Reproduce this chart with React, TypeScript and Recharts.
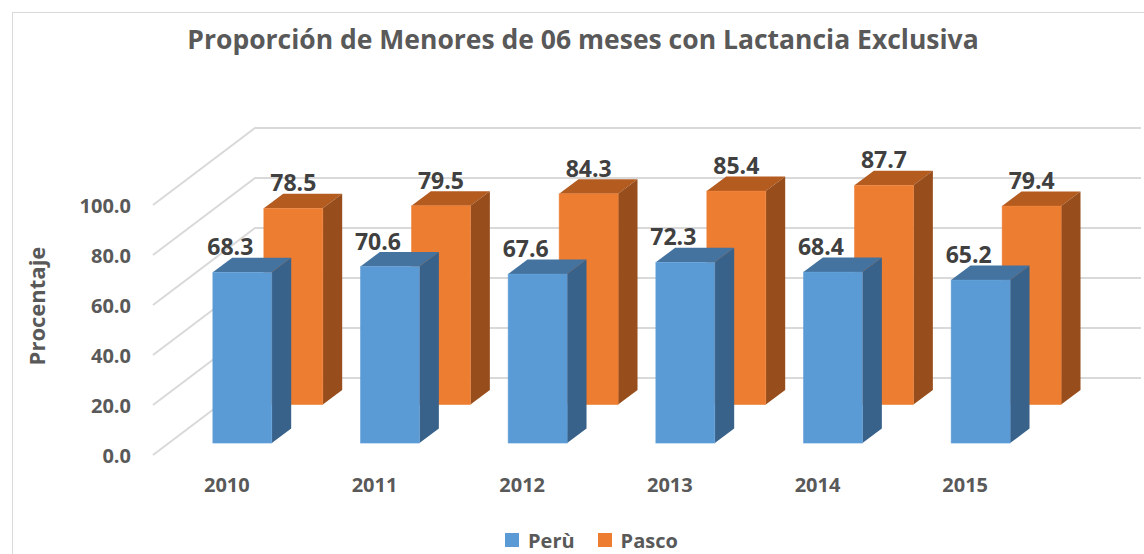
import { BarChart, Bar, XAxis, YAxis, CartesianGrid, Legend, LabelList } from "recharts";

const years = ["2010", "2011", "2012", "2013", "2014", "2015"];
const peru = [68.3, 70.6, 67.6, 72.3, 68.4, 65.2];
const pasco = [78.5, 79.5, 84.3, 85.4, 87.7, 79.4];
const yTicks = [0, 20, 40, 60, 80, 100];

const data = years.map((year, i) => ({ year, peru: peru[i], pasco: pasco[i] }));

const FONT = "'Open Sans', sans-serif";
const TEXT = "#595959";

// oblique projection of the floor: front edge -> back wall, in px
const DEPTH_X = 102;
const DEPTH_Y = -77;
const BOX = 0.19; // how deep each box is, as a share of the floor

type Row = {
  name: string;
  depth: number;
  front: string;
  top: string;
  side: string;
  labelDx: number;
};

const rows: Record<string, Row> = {
  peru: { name: "Perù", depth: 0.155, front: "#5B9BD5", top: "#44739F", side: "#38628A", labelDx: -12 },
  pasco: { name: "Pasco", depth: 0.655, front: "#ED7D31", top: "#B45B20", side: "#984E1C", labelDx: 0 },
};
const legendOrder = ["peru", "pasco"];

function boxShape(row: Row) {
  return (p: any) => {
    const { x, y, width, height } = p;
    const fx = x + DEPTH_X * row.depth;
    const fy = y + DEPTH_Y * row.depth;
    const dx = DEPTH_X * BOX;
    const dy = DEPTH_Y * BOX;
    const r = fx + width;
    const b = fy + height;
    return (
      <g>
        <polygon points={`${fx},${fy} ${r},${fy} ${r + dx},${fy + dy} ${fx + dx},${fy + dy}`} fill={row.top} />
        <polygon points={`${r},${fy} ${r + dx},${fy + dy} ${r + dx},${b + dy} ${r},${b}`} fill={row.side} />
        <rect x={fx} y={fy} width={width} height={height} fill={row.front} stroke={row.front} strokeOpacity={0.6} strokeWidth={0.8} />
      </g>
    );
  };
}

function valueLabel(row: Row) {
  return (p: any) => {
    const { x, y, width, value } = p;
    return (
      <text
        x={x + width / 2 + DEPTH_X * row.depth + row.labelDx}
        y={y + DEPTH_Y * row.depth - 26}
        textAnchor="middle"
        dominantBaseline="central"
        fontFamily={FONT}
        fontWeight={700}
        fontSize={23}
        fill="#404040"
      >
        {Number(value).toFixed(1)}
      </text>
    );
  };
}

// each gridline runs along the left wall then across the back wall
const wallLine = (p: any) => {
  const { x1, y1, x2 } = p;
  return (
    <path
      key={p.key}
      d={`M${x1},${y1} L${x1 + DEPTH_X},${y1 + DEPTH_Y} L${x2 + DEPTH_X},${y1 + DEPTH_Y}`}
      fill="none"
      stroke="#D9D9D9"
      strokeWidth={2}
    />
  );
};

const yTick = (p: any) => (
  <text x={p.x} y={p.y} textAnchor="end" dominantBaseline="central" fontFamily={FONT} fontWeight={700} fontSize={20} fill={TEXT}>
    {Number(p.payload.value).toFixed(1)}
  </text>
);

const xTick = (p: any) => (
  <text x={p.x} y={p.y} textAnchor="middle" dominantBaseline="central" fontFamily={FONT} fontWeight={700} fontSize={20} fill={TEXT}>
    {p.payload.value}
  </text>
);

const yLabel = () => (
  <text x={36} y={306} transform="rotate(-90 36 306)" textAnchor="middle" dominantBaseline="central" fontFamily={FONT} fontWeight={700} fontSize={22} fill={TEXT}>
    Procentaje
  </text>
);

const legendContent = (props: any) => {
  const items = [...(props.payload || [])].sort(
    (a: any, b: any) => legendOrder.indexOf(a.dataKey) - legendOrder.indexOf(b.dataKey)
  );
  return (
    <div style={{ display: "flex", alignItems: "center", height: 24, paddingLeft: 505, fontFamily: FONT, fontWeight: 700, fontSize: 20, color: TEXT }}>
      {items.map((it: any) => (
        <span key={it.dataKey} style={{ display: "flex", alignItems: "center", marginRight: 23 }}>
          <span style={{ width: 14, height: 14, background: rows[it.dataKey].front, marginRight: 9 }} />
          {it.value}
        </span>
      ))}
    </div>
  );
};

export default function App() {
  return (
    <div style={{ position: "absolute", left: 0, top: 0, width: 1144, height: 554, overflow: "hidden", background: "#fff" }}>
      <div style={{ position: "absolute", left: 12, top: 12, width: 1200, height: 600, border: "1.5px solid #D9D9D9" }} />
      <div
        style={{
          position: "absolute",
          left: 0,
          top: 23,
          width: 1144,
          paddingLeft: 22,
          boxSizing: "border-box",
          textAlign: "center",
          fontFamily: FONT,
          fontWeight: 700,
          fontSize: 26.5,
          lineHeight: "32px",
          color: TEXT,
        }}
      >
        Proporción de Menores de 06 meses con Lactancia Exclusiva
      </div>
      <div style={{ position: "absolute", left: 0, top: 0 }}>
        <BarChart
          width={1144}
          height={554}
          data={data}
          margin={{ top: 205, right: 105, left: 60, bottom: 35 }}
          barSize={59}
          barGap={-59}
        >
          <CartesianGrid vertical={false} horizontal={wallLine} />
          <XAxis dataKey="year" axisLine={false} tickLine={false} tickSize={0} tickMargin={29} height={40} tick={xTick} />
          <YAxis
            domain={[0, 100]}
            ticks={yTicks}
            axisLine={false}
            tickLine={false}
            tickSize={0}
            tickMargin={22}
            width={93}
            tick={yTick}
            label={yLabel}
          />
          <Legend verticalAlign="bottom" content={legendContent} wrapperStyle={{ left: 0, width: 1144, top: 528 }} />
          <Bar dataKey="pasco" name={rows.pasco.name} fill={rows.pasco.front} shape={boxShape(rows.pasco)} isAnimationActive={false}>
            <LabelList dataKey="pasco" content={valueLabel(rows.pasco)} />
          </Bar>
          <Bar dataKey="peru" name={rows.peru.name} fill={rows.peru.front} shape={boxShape(rows.peru)} isAnimationActive={false}>
            <LabelList dataKey="peru" content={valueLabel(rows.peru)} />
          </Bar>
        </BarChart>
      </div>
    </div>
  );
}
